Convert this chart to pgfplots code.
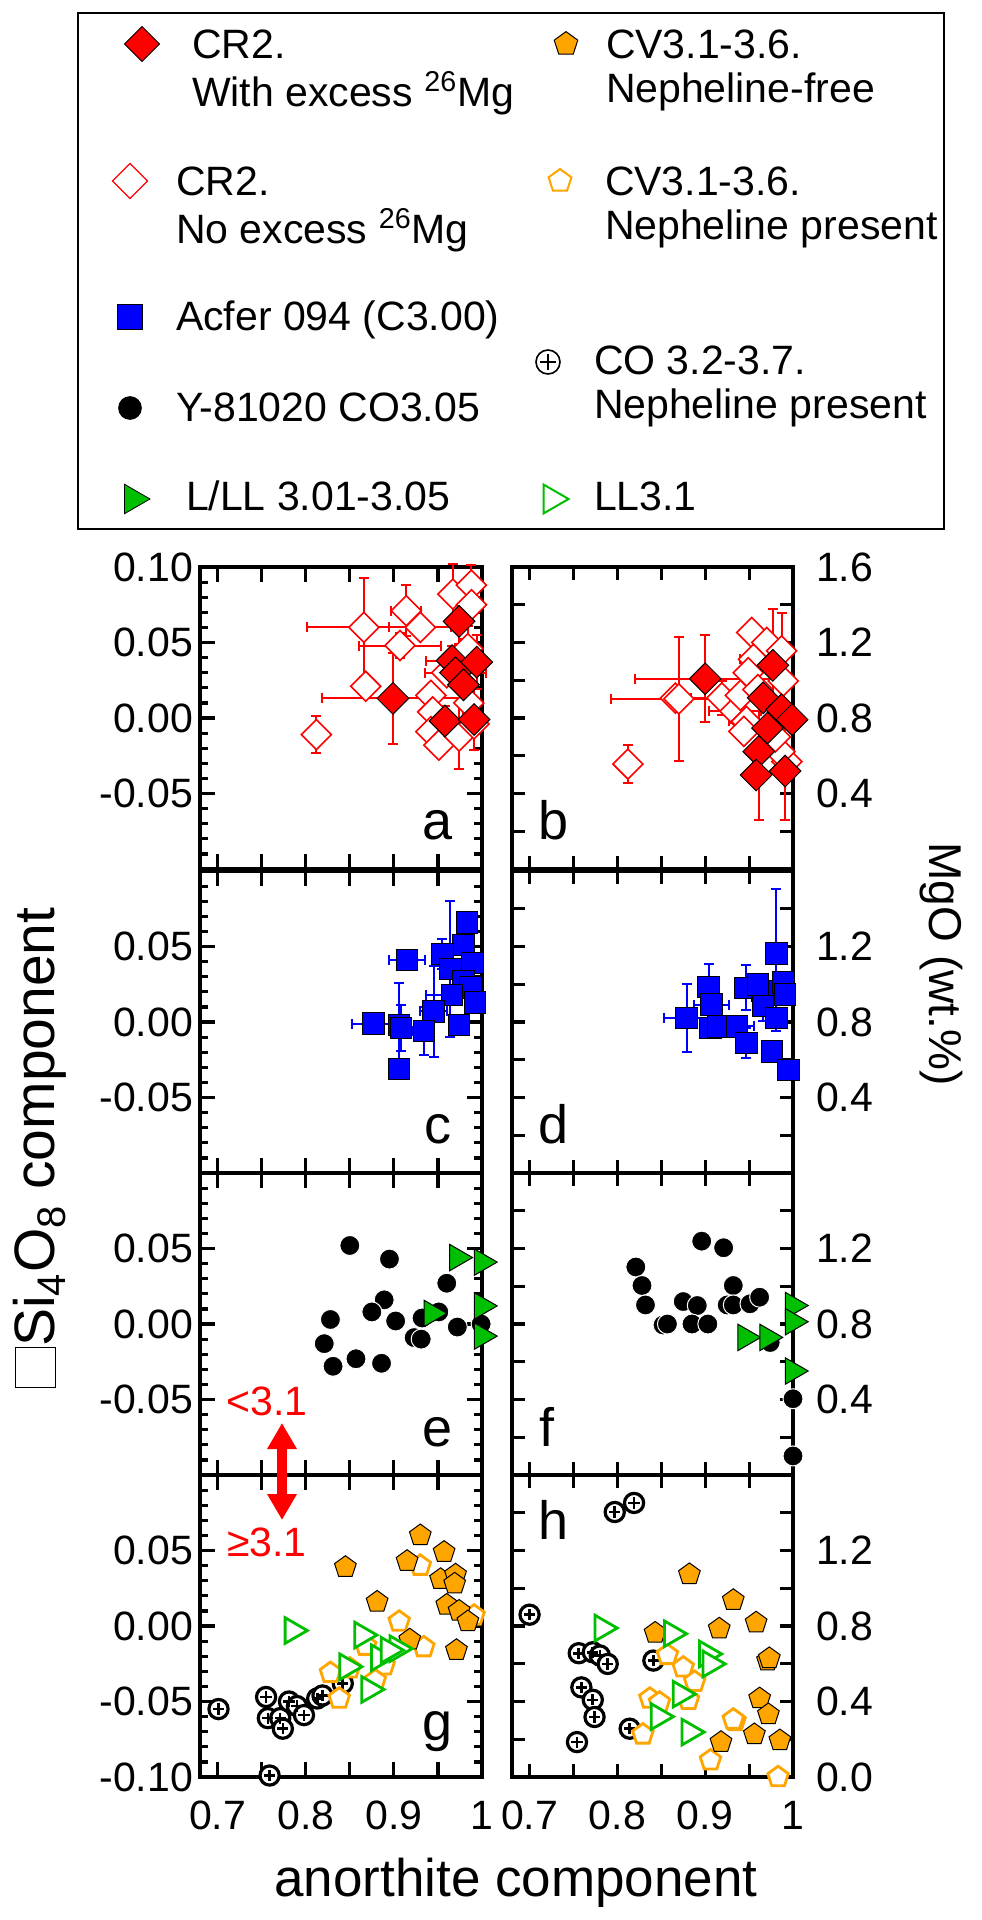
\documentclass[border=0pt]{standalone}
\usepackage{fontspec}
\setmainfont{Liberation Sans}
\usepackage{pgfplots}
\pgfplotsset{compat=1.18}
\usetikzlibrary{arrows.meta,plotmarks}
\definecolor{cred}{RGB}{255,0,0}
\definecolor{cblue}{RGB}{0,0,255}
\definecolor{cgreen}{RGB}{0,190,0}
\definecolor{corange}{RGB}{255,165,0}
\newcommand{\lgt}[4]{\raisebox{0pt}[#1][#2]{\makebox[#3][l]{#4}}}
\newcommand{\two}[2]{\begin{tabular}[t]{@{}l@{}}#1\\#2\end{tabular}}
\tikzset{plab/.style={font=\fontsize{27}{30}\selectfont, anchor=base}}
\pgfplotsset{
  base/.style={scale only axis, xmin=0.68, xmax=1, clip=false,
    axis line style={line width=1.6pt}, tick style={line width=1.6pt, black},
    tick align=inside, xtick={0.7,0.75,0.8,0.85,0.9,0.95,1}, xticklabels={},
    xtick pos=both,
    tick label style={font=\fontsize{20.5}{24}\selectfont},
    xticklabel style={yshift=-8.5pt}},
  lp/.style={base, width=141pt, height=151pt, ymin=-0.1, ymax=0.1,
    ytick={-0.1,-0.05,0,0.05,0.1}, minor y tick num=4,
    major tick length=7.5pt, minor tick length=4pt, ytick pos=both},
  rp/.style={base, width=140.5pt, height=151pt, ymin=0, ymax=1.6,
    ytick={0,0.2,0.4,0.6,0.8,1,1.2,1.4,1.6}, major tick length=6.5pt,
    yticklabel pos=right, ytick pos=both, yticklabel style={xshift=8pt}},
  ebr/.style={only marks, mark=none, forget plot, error bars/.cd, x dir=both, x explicit, y dir=both, y explicit,
    error bar style={#1, line width=1pt}, error mark options={rotate=90, #1, mark size=2.5pt, line width=1pt}},
  dfill/.style={only marks, mark=square*, mark size=5.6pt, mark options={rotate=45, fill=cred, draw=black, line width=0.5pt}},
  dopen/.style={only marks, mark=square*, mark size=5.3pt, mark options={rotate=45, draw=cred, fill=white, line width=0.8pt}},
  bsq/.style={only marks, mark=square*, mark size=5.4pt, mark options={fill=cblue, draw=black, line width=0.5pt}},
  bdot/.style={only marks, mark=*, mark size=5pt, mark options={fill=black, draw=white, line width=0.5pt}},
  gtri/.style={only marks, mark=triangle*, mark size=7.6pt, mark options={rotate=-90, fill=cgreen, draw=black, line width=0.5pt}},
  gtrio/.style={only marks, mark=triangle*, mark size=7.4pt, mark options={rotate=-90, draw=cgreen, fill=white, line width=1.4pt}},
  pfill/.style={only marks, mark=pentagon*, mark size=5.7pt, mark options={fill=corange, draw=black, line width=0.5pt}},
  popen/.style={only marks, mark=pentagon*, mark size=5.4pt, mark options={draw=corange, fill=white, line width=1.4pt}},
  cocirc/.style={only marks, mark=*, mark size=4.8pt, mark options={fill=white, draw=black, line width=1.6pt}},
  coplus/.style={only marks, mark=+, mark size=2.8pt, mark options={draw=black, line width=1.3pt}},
  limg/.style n args={3}{legend image code/.code={\path[draw=none,fill=none] (0pt,0pt) -- (#1,0pt);\draw[##1] plot coordinates {(#2,#3)};}},
}
\begin{document}
\begin{tikzpicture}
\useasboundingbox (0pt,0pt) rectangle (490.5pt,-960pt);
% ---------------- legend ----------------
\begin{axis}[hide axis, scale only axis, width=433pt, height=257pt,
  xmin=0, xmax=1, ymin=0, ymax=1, at={(39pt,-6.5pt)}, anchor=north west,
  legend columns=2,
  legend style={at={(0,1)}, anchor=north west, draw=black, line width=0.8pt, inner sep=0pt, outer sep=0pt,
    fill=white, font=\fontsize{20.5}{22}\selectfont,
    cells={anchor=base west}, nodes={inner sep=0pt, outer sep=0pt, text depth=, text height=},
    row sep=0pt, column sep=0pt}]
\addlegendimage{only marks, mark=square*, mark size=6.2pt, mark options={rotate=45, fill=cred, draw=black, line width=0.5pt}, limg={49pt}{32pt}{7pt}}
\addlegendentry{\lgt{22.5pt}{48.5pt}{169pt}{\hspace*{8pt}\two{CR2.}{With excess \textsuperscript{26}Mg}}}
\addlegendimage{only marks, mark=pentagon*, mark size=6.2pt, mark options={fill=corange, draw=black, line width=0.5pt}, limg={40pt}{26pt}{7pt}}
\addlegendentry{\lgt{22.5pt}{48.5pt}{175pt}{\hspace*{6pt}\two{CV3.1-3.6.}{Nepheline-free}}}
\addlegendimage{only marks, mark=square*, mark size=6.2pt, mark options={rotate=45, fill=white, draw=cred, line width=0.6pt}, limg={49pt}{26pt}{7pt}}
\addlegendentry{\lgt{20pt}{47.5pt}{169pt}{\two{CR2.}{No excess \textsuperscript{26}Mg}}}
\addlegendimage{only marks, mark=pentagon*, mark size=6pt, mark options={fill=white, draw=corange, line width=1pt}, limg={40pt}{23pt}{7pt}}
\addlegendentry{\lgt{20pt}{47.5pt}{175pt}{\hspace*{5.5pt}\two{CV3.1-3.6.}{Nepheline present}}}
\addlegendimage{only marks, mark=square*, mark size=6.3pt, mark options={fill=cblue, draw=black, line width=0.4pt}, limg={49pt}{26pt}{6.5pt}}
\addlegendentry{\lgt{20pt}{25.5pt}{169pt}{Acfer 094 (C3.00)}}
\addlegendimage{legend image code/.code={\path[draw=none,fill=none] (0pt,0pt) -- (40pt,0pt);
  \draw[black, line width=0.8pt, fill=white] (17pt,-16pt) circle[radius=6pt];
  \draw[black, line width=0.9pt] (13pt,-16pt) -- (21pt,-16pt) (17pt,-20pt) -- (17pt,-12pt);}}
\addlegendentry{\lgt{20pt}{25.5pt}{175pt}{\raisebox{-22pt}{\two{CO 3.2-3.7.}{Nepheline present}}}}
\addlegendimage{only marks, mark=*, mark size=5.7pt, mark options={fill=black, draw=black, line width=0.4pt}, limg={49pt}{26pt}{6.5pt}}
\addlegendentry{\lgt{20pt}{24.5pt}{169pt}{Y-81020 CO3.05}}
\addlegendimage{empty legend}
\addlegendentry{\lgt{20pt}{24.5pt}{175pt}{}}
\addlegendimage{only marks, mark=triangle*, mark size=8.5pt, mark options={rotate=-90, fill=cgreen, draw=black, line width=0.4pt}, limg={49pt}{27.5pt}{5.5pt}}
\addlegendentry{\lgt{20pt}{9.5pt}{169pt}{\hspace*{5pt}L/LL 3.01-3.05}}
\addlegendimage{only marks, mark=triangle*, mark size=8.3pt, mark options={rotate=-90, fill=white, draw=cgreen, line width=1pt}, limg={40pt}{19pt}{5.5pt}}
\addlegendentry{\lgt{20pt}{9.5pt}{175pt}{LL3.1}}
\end{axis}
% ---------------- panel a ----------------
\begin{axis}[lp, at={(100pt,-283.5pt)}, anchor=north west, yticklabels={{},-0.05,0.00,0.05,0.10}]
\addplot[ebr=cred] coordinates {
(0.812,-0.011) +- (0,0.012)
(0.866,0.060) +- (0.065,0.033)
(0.914,0.071) +- (0.017,0.017)
(0.907,0.048) +- (0.047,0.008)
(0.930,0.060) +- (0.035,0.004)
(0.967,0.082) +- (0.008,0.02)
(0.988,0.088) +- (0.005,0.013)
(0.984,0.046) +- (0.008,0.015)
(0.974,-0.012) +- (0.004,0.022)
(0.899,0.013) +- (0.08,0.03)
(0.974,0.064) +- (0.01,0.015)
(0.966,0.038) +- (0.03,0.01)
(0.970,0.030) +- (0.035,0.01)
(0.979,0.022) +- (0.005,0.03)
(0.958,-0.002) +- (0.01,0.01)
(0.991,-0.001) +- (0.005,0.02)
(0.994,0.037) +- (0.005,0.018)
};
\addplot[dopen] coordinates {
(0.812,-0.011) (0.866,0.060) (0.868,0.021) (0.907,0.048) (0.914,0.071) (0.930,0.060)
(0.942,0.015) (0.944,0.004) (0.942,-0.009) (0.951,-0.018) (0.967,0.082) (0.988,0.088)
(0.988,0.075) (0.984,0.046) (0.974,-0.012) (0.991,-0.004) (0.960,0.030) (0.985,0.010)
};
\addplot[dfill] coordinates {
(0.899,0.013) (0.974,0.064) (0.966,0.038) (0.994,0.037) (0.970,0.030) (0.979,0.022)
(0.958,-0.002) (0.991,-0.001)
};
\node[plab] at (axis description cs:0.844,0.099) {a};
\end{axis}
% ---------------- panel b ----------------
\begin{axis}[rp, at={(256pt,-283.5pt)}, anchor=north west, yticklabels={{},{},0.4,{},0.8,{},1.2,{},1.6}]
\addplot[ebr=cred] coordinates {
(0.900,1.008) +- (0.08,0.23)
(0.870,0.901) +- (0.077,0.33)
(0.961,0.622) +- (0.01,0.36)
(0.977,1.079) +- (0.01,0.30)
(0.987,1.156) +- (0.005,0.2)
(0.991,0.519) +- (0.005,0.26)
(0.919,0.907) +- (0.035,0.09)
(0.934,0.836) +- (0.03,0.06)
(0.812,0.556) +- (0,0.1)
(0.947,0.782) +- (0.02,0.05)
(0.955,1.111) +- (0.015,0)
};
\addplot[dopen] coordinates {
(0.812,0.556) (0.866,0.905) (0.870,0.901) (0.919,0.907) (0.934,0.836) (0.947,0.782)
(0.944,0.729) (0.953,1.253) (0.970,1.200) (0.987,1.156) (0.955,1.111) (0.949,1.040)
(0.989,0.996) (0.993,0.569) (0.985,0.622) (0.940,0.920) (0.960,0.950) (0.980,0.700)
};
\addplot[dfill] coordinates {
(0.900,1.008) (0.977,1.079) (0.966,0.907) (0.987,0.844) (0.999,0.791) (0.971,0.747)
(0.961,0.622) (0.958,0.498) (0.991,0.519)
};
\node[plab] at (axis description cs:0.148,0.099) {b};
\end{axis}
% ---------------- panel c ----------------
\begin{axis}[lp, at={(100pt,-435.5pt)}, anchor=north west, yticklabels={{},-0.05,0.00,0.05,{}}]
\addplot[ebr=cblue] coordinates {
(0.877,-0.001) +- (0.024,0.003)
(0.906,-0.002) +- (0.012,0.028)
(0.908,-0.004) +- (0.005,0.015)
(0.945,0.007) +- (0.015,0.03)
(0.964,0.035) +- (0.005,0.045)
(0.955,0.045) +- (0.008,0.01)
(0.915,0.041) +- (0.02,0)
(0.966,0.018) +- (0.03,0.005)
(0.934,-0.006) +- (0.012,0.016)
};
\addplot[bsq] coordinates {
(0.915,0.041) (0.983,0.066) (0.979,0.051) (0.955,0.045) (0.989,0.039) (0.964,0.035)
(0.979,0.027) (0.987,0.023) (0.966,0.018) (0.992,0.013) (0.945,0.007) (0.877,-0.001)
(0.906,-0.002) (0.908,-0.004) (0.934,-0.006) (0.974,-0.002) (0.906,-0.031)
};
\node[plab] at (axis description cs:0.844,0.099) {c};
\end{axis}
% ---------------- panel d ----------------
\begin{axis}[rp, at={(256pt,-435.5pt)}, anchor=north west, yticklabels={{},{},0.4,{},0.8,{},1.2,{},{}}]
\addplot[ebr=cblue] coordinates {
(0.879,0.821) +- (0.026,0.18)
(0.904,0.985) +- (0.01,0.12)
(0.981,1.163) +- (0.005,0.34)
(0.946,0.981) +- (0.01,0.12)
(0.947,0.688) +- (0.005,0.08)
(0.936,0.777) +- (0.02,0.05)
(0.907,0.892) +- (0.02,0.03)
(0.966,0.884) +- (0.01,0.08)
(0.981,0.821) +- (0.01,0.07)
};
\addplot[bsq] coordinates {
(0.879,0.821) (0.904,0.985) (0.907,0.892) (0.906,0.768) (0.915,0.777) (0.936,0.777)
(0.946,0.981) (0.947,0.688) (0.965,0.964) (0.966,0.884) (0.960,1.000) (0.981,1.163)
(0.989,1.008) (0.991,0.946) (0.981,0.821) (0.976,0.644) (0.995,0.546)
};
\node[plab] at (axis description cs:0.148,0.099) {d};
\end{axis}
% ---------------- panel e ----------------
\begin{axis}[lp, at={(100pt,-586.5pt)}, anchor=north west, yticklabels={{},-0.05,0.00,0.05,{}}]
\addplot[bdot] coordinates {
(0.850,0.052) (0.895,0.043) (0.960,0.027) (0.889,0.016) (0.875,0.008) (0.828,0.003)
(0.902,0.002) (0.951,0.008) (0.932,0.004) (0.923,-0.009) (0.931,-0.010) (0.972,-0.002)
(0.999,0.000) (0.821,-0.013) (0.831,-0.028) (0.857,-0.023) (0.886,-0.026)
};
\addplot[gtri] coordinates {
(0.972,0.044) (1.000,0.041) (0.943,0.007) (1.000,0.012) (1.000,-0.008)
};
\node[plab] at (axis description cs:0.844,0.093) {e};
\end{axis}
% ---------------- panel f ----------------
\begin{axis}[rp, at={(256pt,-586.5pt)}, anchor=north west, yticklabels={{},{},0.4,{},0.8,{},1.2,{},{}}]
\addplot[bdot] coordinates {
(0.896,1.239) (0.921,1.204) (0.821,1.102) (0.828,1.004) (0.832,0.901) (0.852,0.795)
(0.857,0.800) (0.875,0.919) (0.891,0.898) (0.885,0.800) (0.903,0.800) (0.932,1.004)
(0.925,0.901) (0.932,0.901) (0.951,0.907) (0.962,0.942) (0.974,0.702) (1.000,0.404)
(1.000,0.101)
};
\addplot[gtri] coordinates {
(0.946,0.729) (0.971,0.729) (1.000,0.898) (1.000,0.812) (1.000,0.551)
};
\node[plab] at (axis description cs:0.125,0.096) {f};
\end{axis}
% ---------------- panel g ----------------
\begin{axis}[lp, at={(100pt,-737.5pt)}, anchor=north west, yticklabels={-0.10,-0.05,0.00,0.05,{}},
  xticklabels={0.7,{},0.8,{},0.9,{},1}]
\addplot[cocirc] coordinates {
(0.701,-0.055) (0.755,-0.047) (0.757,-0.061) (0.771,-0.061) (0.774,-0.068) (0.781,-0.050)
(0.790,-0.053) (0.798,-0.059) (0.813,-0.048) (0.819,-0.046) (0.842,-0.038) (0.759,-0.099)
};
\addplot[coplus] coordinates {
(0.701,-0.055) (0.755,-0.047) (0.757,-0.061) (0.771,-0.061) (0.774,-0.068) (0.781,-0.050)
(0.790,-0.053) (0.798,-0.059) (0.813,-0.048) (0.819,-0.046) (0.842,-0.038) (0.759,-0.099)
};
\addplot[popen] coordinates {
(0.930,0.040) (0.906,0.003) (0.934,-0.014) (0.828,-0.031) (0.850,-0.028) (0.868,-0.013)
(0.889,-0.026) (0.879,-0.036) (0.838,-0.048) (0.991,0.007)
};
\addplot[pfill] coordinates {
(0.930,0.060) (0.845,0.039) (0.915,0.043) (0.957,0.049) (0.953,0.031) (0.970,0.034)
(0.969,0.028) (0.960,0.014) (0.974,0.010) (0.984,0.003) (0.881,0.016) (0.918,-0.009)
(0.971,-0.016)
};
\addplot[gtrio] coordinates {
(0.785,-0.003) (0.864,-0.006) (0.883,-0.021) (0.904,-0.015) (0.894,-0.016) (0.847,-0.027)
(0.872,-0.042)
};
\node[plab] at (axis description cs:0.844,0.12) {g};
\end{axis}
% ---------------- panel h ----------------
\begin{axis}[rp, at={(256pt,-737.5pt)}, anchor=north west, yticklabels={0.0,{},0.4,{},0.8,{},1.2,{},{}},
  xticklabels={0.7,{},0.8,{},0.9,{},1}]
\addplot[cocirc] coordinates {
(0.797,1.404) (0.819,1.452) (0.700,0.860) (0.756,0.656) (0.772,0.661) (0.780,0.644)
(0.789,0.599) (0.841,0.617) (0.759,0.475) (0.772,0.409) (0.774,0.318) (0.754,0.185)
(0.814,0.256)
};
\addplot[coplus] coordinates {
(0.797,1.404) (0.819,1.452) (0.700,0.860) (0.756,0.656) (0.772,0.661) (0.780,0.644)
(0.789,0.599) (0.841,0.617) (0.759,0.475) (0.772,0.409) (0.774,0.318) (0.754,0.185)
(0.814,0.256)
};
\addplot[popen] coordinates {
(0.857,0.647) (0.875,0.581) (0.888,0.505) (0.881,0.409) (0.837,0.416) (0.848,0.395)
(0.829,0.226) (0.934,0.297) (0.932,0.305) (0.906,0.089) (0.983,0.000)
};
\addplot[pfill] coordinates {
(0.882,1.074) (0.932,0.937) (0.916,0.786) (0.958,0.818) (0.843,0.764) (0.971,0.617)
(0.973,0.629) (0.962,0.416) (0.972,0.332) (0.956,0.226) (0.918,0.185) (0.985,0.194)
};
\addplot[gtrio] coordinates {
(0.783,0.789) (0.862,0.759) (0.902,0.652) (0.906,0.599) (0.872,0.439) (0.847,0.320)
(0.882,0.238)
};
\node[plab] at (axis description cs:0.148,0.785) {h};
\end{axis}
% ---------------- annotations and labels ----------------
\node[text=cred, font=\fontsize{20.5}{24}\selectfont] at (133.5pt,-700.5pt) {<3.1};
\node[text=cred, font=\fontsize{20.5}{24}\selectfont] at (133.5pt,-771pt) {≥3.1};
\draw[cred, line width=5pt, {Triangle[width=14pt,length=13pt]}-{Triangle[width=14pt,length=13pt]}] (141pt,-711.5pt) -- (141pt,-760pt);
\node[rotate=90, font=\fontsize{28.5}{32}\selectfont] at (20pt,-574pt)
  {{\fboxsep=0pt\fboxrule=0.7pt\fbox{\rule{0pt}{0.68em}\hspace{0.68em}}}Si\textsubscript{4}O\textsubscript{8} component};
\node[rotate=-90, font=\fontsize{23}{27}\selectfont] at (470.5pt,-482pt) {MgO (wt.\%)};
\node[anchor=base, font=\fontsize{26.5}{30}\selectfont] at (258pt,-948pt) {anorthite component};
\end{tikzpicture}
\end{document}
